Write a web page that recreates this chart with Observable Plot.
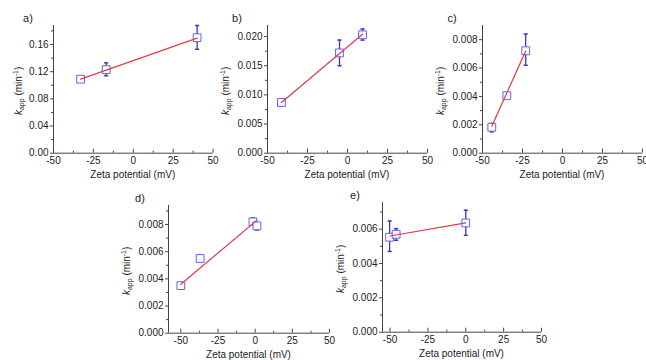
<!DOCTYPE html>
<html><head><meta charset="utf-8">
<script src="https://cdn.jsdelivr.net/npm/d3@7"></script>
<script src="https://cdn.jsdelivr.net/npm/@observablehq/plot@0.6"></script>
<style>
body{margin:0;background:#fff;}
#wrap{position:relative;width:646px;height:360px;overflow:hidden;background:#fff;font-family:"Liberation Sans",Arial,sans-serif;}
#wrap svg{position:absolute;overflow:visible;}
</style></head><body><div id="wrap"></div>
<script>
// Tick labels
const xTicks = [-50, -25, 0, 25, 50];
const xMinor = [-37.5, -12.5, 12.5, 37.5];
// Panel a
const aZeta = [-33, -17, 40];
const aK = [0.109, 0.123, 0.170];
const aLo = [0.107, 0.114, 0.153];
const aHi = [0.111, 0.133, 0.188];
const aFitX = [-33, 40];
const aFitY = [0.109, 0.1695];
const aYTicks = [0, 0.04, 0.08, 0.12, 0.16];
// Panel b
const bZeta = [-41.3, -5, 9.4];
const bK = [0.0087, 0.0172, 0.0203];
const bLo = [0.0084, 0.0150, 0.0194];
const bHi = [0.0090, 0.0194, 0.0213];
const bFitX = [-41.3, 9.4];
const bFitY = [0.0087, 0.0204];
const bYTicks = [0, 0.005, 0.010, 0.015, 0.020];
// Panel c
const cZeta = [-44.2, -34.8, -23];
const cK = [0.00183, 0.00405, 0.00722];
const cLo = [0.0015, 0.0039, 0.0062];
const cHi = [0.0021, 0.0042, 0.0084];
const cFitX = [-44.2, -23];
const cFitY = [0.0019, 0.0072];
const cYTicks = [0, 0.002, 0.004, 0.006, 0.008];
// Panel d
const dZeta = [-50, -37, -1.5, 1.2];
const dK = [0.0035, 0.0055, 0.0082, 0.0079];
const dLo = [0.0033, 0.0053, 0.0080, 0.0076];
const dHi = [0.0037, 0.0057, 0.0085, 0.0081];
const dFitX = [-50, 1];
const dFitY = [0.0036, 0.0083];
const dYTicks = [0, 0.002, 0.004, 0.006, 0.008];
// Panel e
const eZeta = [-50.3, -46, 0];
const eK = [0.00553, 0.0057, 0.00636];
const eLo = [0.0047, 0.00535, 0.00564];
const eHi = [0.00647, 0.00603, 0.0071];
const eFitX = [-50, 0];
const eFitY = [0.0056, 0.00636];
const eYTicks = [0, 0.002, 0.004, 0.006];

const AX = "#444", TXT = "#222";
const capSymbol = {draw(ctx, size){ const r = Math.sqrt(size)/2; ctx.moveTo(-r,0); ctx.lineTo(r,0); }};

function panel(p){
  const ml = 50, mr = 12, mt = 25, mb = 35;
  const pw = p.R - p.L, ph = p.B - p.T;
  const rows = p.x.map((x,i)=>({x, y:p.y[i], lo:p.lo[i], hi:p.hi[i]}));
  const fit = p.fx.map((x,i)=>({x, y:p.fy[i]}));
  const minorY = [];
  for (let i=0;i<p.yTicks.length;i++){ const s = p.yTicks[1]-p.yTicks[0]; const v = p.yTicks[i]+s/2; if (v < p.yDomain[1]) minorY.push(v); }
  const xm = xMinor.filter(v=>v>p.xDomain[0]);
  const chart = Plot.plot({
    width: pw+ml+mr, height: ph+mt+mb,
    marginLeft: ml, marginRight: mr, marginTop: mt, marginBottom: mb,
    style: {background:"transparent", fontFamily:"'Liberation Sans',Arial,sans-serif", fontSize:"10px", color:TXT, overflow:"visible"},
    x: {domain: p.xDomain},
    y: {domain: p.yDomain},
    marks: [
      Plot.ruleY([p.yDomain[0]], {stroke:AX}),
      Plot.ruleX([p.xDomain[0]], {stroke:AX}),
      Plot.axisX({ticks: xTicks, tickSize: 0, tickPadding: 4, label: null, tickFormat: d => String(d), fontSize: 10, color: TXT}),
      Plot.tickX(xTicks, {x: d=>d, insetTop: ph-4, stroke: AX}),
      Plot.tickX(xm, {x: d=>d, insetTop: ph-2, stroke: AX}),
      Plot.axisY({ticks: p.yTicks, tickSize: 3, tickPadding: 2, label: null, tickFormat: d3.format(p.fmt), fontSize: 10, color: TXT, stroke: AX}),
      Plot.axisY({ticks: minorY, tickSize: 2, label: null, tickFormat: ()=>"", stroke: AX}),
      Plot.ruleX(rows, {x:"x", y1:"lo", y2:"hi", stroke:"#3535c8", strokeWidth:1.3}),
      Plot.dot(rows, {x:"x", y:"lo", symbol: capSymbol, r: 2.3, stroke:"#3535c8", strokeWidth:1.5}),
      Plot.dot(rows, {x:"x", y:"hi", symbol: capSymbol, r: 2.3, stroke:"#3535c8", strokeWidth:1.5}),
      Plot.dot(rows, {x:"x", y:"y", symbol:"square", r: 4.4, fill:"white", stroke:"#6060f0", strokeWidth:1}),
      Plot.line(fit, {x:"x", y:"y", stroke:"#e23a44", strokeWidth:1.2})
    ]
  });
  chart.style.left = (p.L - ml) + "px";
  chart.style.top = (p.T - mt) + "px";
  const svg = d3.select(chart);
  svg.append("text").attr("x", ml + p.tdx).attr("y", mt - 3).attr("font-size", 11).attr("fill", TXT).text(p.title);
  svg.append("text").attr("x", ml + pw/2).attr("y", mt + ph + 25).attr("text-anchor","middle").attr("font-size", 10).attr("fill", TXT).text("Zeta potential (mV)");
  const yl = svg.append("text").attr("transform", `translate(${ml - p.ylx},${mt + ph/2 + 2}) rotate(-90)`).attr("text-anchor","middle").attr("font-size", 10).attr("fill", TXT);
  yl.append("tspan").attr("font-style","italic").text("k");
  yl.append("tspan").attr("font-size", 7).attr("dy", 2).text("app");
  yl.append("tspan").attr("dy", -2).text(" (min");
  yl.append("tspan").attr("font-size", 7).attr("dy", -4).text("-1");
  yl.append("tspan").attr("dy", 4).text(")");
  document.getElementById("wrap").appendChild(chart);
}

panel({title:"a)", tdx:-25, ylx:31, L:52.7, R:212.3, T:25, B:152.7, xDomain:[-50,50], yDomain:[0,0.188], yTicks:aYTicks, fmt:".2f", x:aZeta, y:aK, lo:aLo, hi:aHi, fx:aFitX, fy:aFitY});
panel({title:"b)", tdx:-30, ylx:38, L:266.7, R:426.7, T:25, B:152.7, xDomain:[-50,50], yDomain:[0,0.0219], yTicks:bYTicks, fmt:".3f", x:bZeta, y:bK, lo:bLo, hi:bHi, fx:bFitX, fy:bFitY});
panel({title:"c)", tdx:-30, ylx:38, L:481.7, R:641.7, T:25, B:152.7, xDomain:[-50,50], yDomain:[0,0.009], yTicks:cYTicks, fmt:".3f", x:cZeta, y:cK, lo:cLo, hi:cHi, fx:cFitX, fy:cFitY});
panel({title:"d)", tdx:-28, ylx:38, L:168.3, R:329.3, T:205, B:332.7, xDomain:[-58.3,50], yDomain:[0,0.0094], yTicks:dYTicks, fmt:".3f", x:dZeta, y:dK, lo:dLo, hi:dHi, fx:dFitX, fy:dFitY});
panel({title:"e)", tdx:-27, ylx:38, L:381.7, R:540.7, T:202, B:331.7, xDomain:[-55,50], yDomain:[0,0.00755], yTicks:eYTicks, fmt:".3f", x:eZeta, y:eK, lo:eLo, hi:eHi, fx:eFitX, fy:eFitY});
</script></body></html>
